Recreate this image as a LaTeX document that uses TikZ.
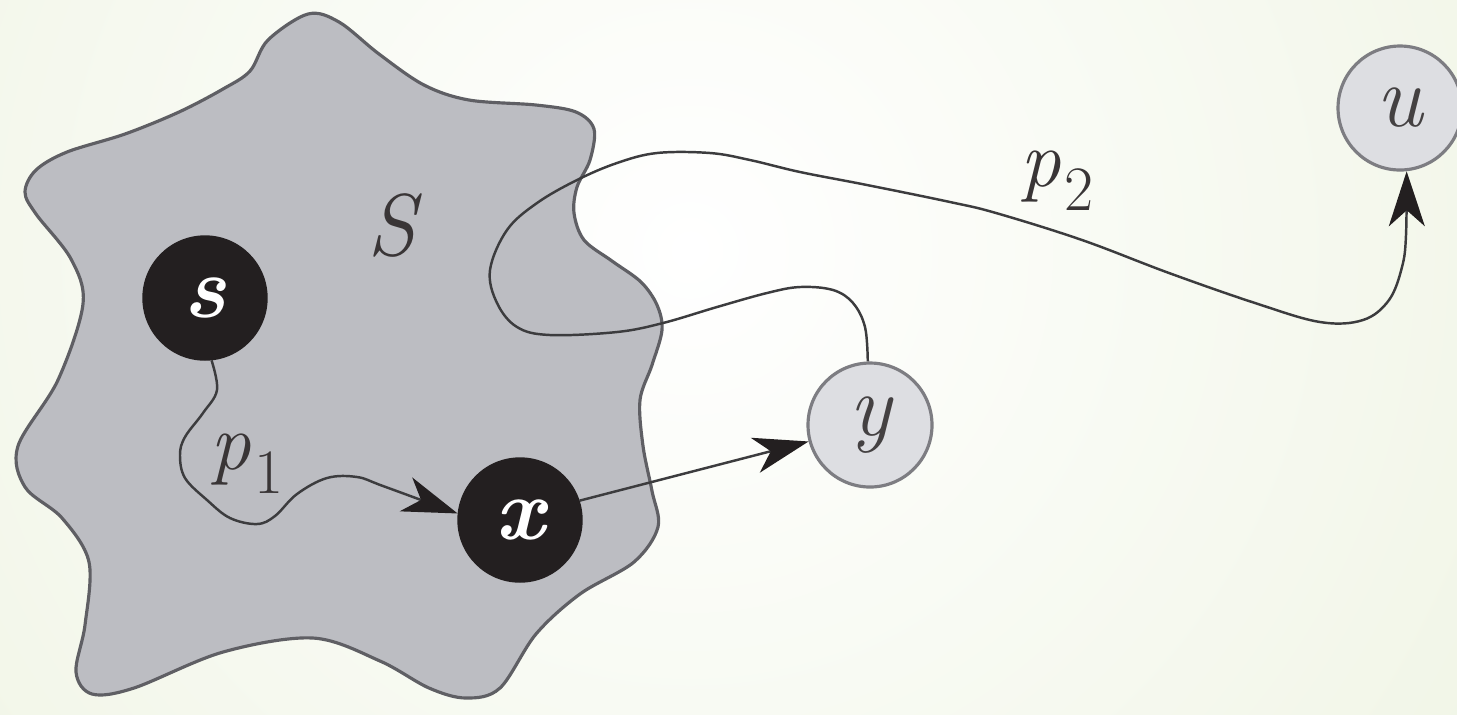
\documentclass[tikz,border=0pt]{standalone}
\usepackage{fontspec}
\usetikzlibrary{arrows.meta}
\definecolor{bgout}{RGB}{233,240,217}
\definecolor{blobfill}{RGB}{188,189,194}
\definecolor{blobline}{RGB}{95,95,100}
\definecolor{dark}{RGB}{35,31,32}
\definecolor{lightnode}{RGB}{221,222,226}
\definecolor{lightline}{RGB}{125,125,130}
\definecolor{pathcol}{RGB}{60,60,62}
\begin{document}
\begin{tikzpicture}[x=0.1mm,y=-0.1mm,
  blacknode/.style={circle, fill=dark, draw=dark, minimum size=12.4mm, inner sep=0pt, text=white, font=\fontsize{25}{25}\selectfont\bfseries\itshape},
  graynode/.style={circle, fill=lightnode, draw=lightline, line width=0.9pt, minimum size=12.4mm, inner sep=0pt, text=dark!85, font=\fontsize{25}{25}\selectfont\itshape},
  pathline/.style={draw=pathcol, line width=0.7pt},
  tip/.style={-{Stealth[length=5.5mm,width=3.6mm,inset=1.6mm,color=dark]}},
  lbl/.style={font=\fontsize{23}{23}\selectfont\itshape, text=dark!90, inner sep=0pt}]
\useasboundingbox (0,0) rectangle (1457,714);
\begin{scope}
\clip (0,0) rectangle (1457,714);
\shade[inner color=white, outer color=bgout] (690,250) circle (1450);
\end{scope}
% the set S
\draw[fill=blobfill, draw=blobline, line width=0.9pt] plot[smooth cycle, tension=0.55] coordinates {(308,14) (268,40) (250,71) (223,89) (179,112) (125,134) (67,152) (36,170) (25,192) (36,214) (71,259) (83,304) (58,380) (18,446) (25,487) (62,518) (89,562) (85,625) (76,672) (92,694) (134,688) (223,652) (313,638) (380,661) (429,688) (466,698) (500,688) (536,634) (580,594) (634,562) (658,527) (652,491) (643,446) (640,400) (652,365) (662,330) (657,305) (641,282) (612,261) (584,240) (574,213) (577,187) (590,160) (594,129) (576,112) (536,105) (469,100) (424,85) (379,54) (339,22)};
% nodes
\node[blacknode] (s) at (205,298) {s};
\node[blacknode] (x) at (520,520) {x};
\node[graynode] (y) at (870,425) {y};
\node[graynode] (u) at (1400,108) {u};
% labels
\node[lbl, font=\fontsize{25}{25}\selectfont\itshape, anchor=base] (S) at (392,255) {S};
\node[lbl, anchor=base west] (p1) at (210,469) {p\kern1pt\raisebox{-6.9pt}{\upshape\fontsize{18}{18}\selectfont 1}};
\node[lbl, anchor=base west] (p2) at (1020,186) {p\kern1pt\raisebox{-6.9pt}{\upshape\fontsize{18}{18}\selectfont 2}};
% paths
\draw[pathline, tip] plot[smooth, tension=0.6] coordinates {(s.-84) (217,390) (203,413) (185,437) (180,455) (185,478) (207,500) (230,518) (257,524) (275,516) (297,494) (327,478) (357,477) (383,486) (x.174)};
\draw[pathline, tip] (x.18) -- (y.195);
\draw[pathline, tip] plot[smooth, tension=0.6] coordinates {(y.92) (865,327) (853,303) (833,290) (800,287) (767,293) (717,307) (663,323) (617,332) (550,335) (517,327) (497,303) (490,270) (507,230) (537,203) (577,180) (617,163) (657,153) (710,153) (750,160) (800,172) (867,185) (950,202) (996,213) (1082,240) (1169,273) (1255,303) (1320,322) (1363,320) (1389,300) (1402,267) (1406,235) (u.-84)};
\end{tikzpicture}
\end{document}
